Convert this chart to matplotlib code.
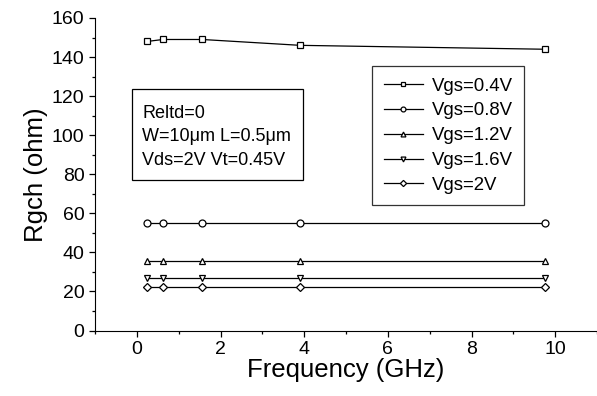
import numpy as np
import matplotlib
matplotlib.use("Agg")
import matplotlib.pyplot as plt
from matplotlib.patches import Rectangle

plt.rcParams['font.family'] = ['Liberation Sans', 'DejaVu Sans']

freq = [0.25, 0.625, 1.5625, 3.906, 9.766]
rg_04 = [148, 149, 149, 146, 144]
rg_08 = [55, 55, 55, 55, 55]
rg_12 = [35.7, 35.7, 35.7, 35.7, 35.7]
rg_16 = [27, 27, 27, 27, 27]
rg_20 = [22.4, 22.4, 22.4, 22.4, 22.4]
labels = ['Vgs=0.4V', 'Vgs=0.8V', 'Vgs=1.2V', 'Vgs=1.6V', 'Vgs=2V']
markers = ['s', 'o', '^', 'v', 'D']

# axes box in pixels (left, bottom, width, height)
L, B, W, H = 95, 330.5, 502, 312.5

fig = plt.figure(figsize=(5.97, 3.96), dpi=100)
ax = fig.add_axes([L/597, 1 - B/396, W/597, H/396])

def px(x, y):
    # pixel position -> axes fraction
    return (x - L)/W, (B - y)/H

for ys, lab, m in zip([rg_04, rg_08, rg_12, rg_16, rg_20], labels, markers):
    ms = 4.5 if m == 'D' else 5
    ax.plot(freq, ys, color='black', lw=0.9, marker=m, ms=ms, mfc='white',
            mec='black', mew=0.9, label=lab)

ax.set_xlim(-1, 11)
ax.set_ylim(0, 160)
ax.set_xticks(np.arange(0, 11, 2))
ax.set_xticks(np.arange(-1, 11.5, 1), minor=True)
ax.set_yticks(np.arange(0, 161, 20))
ax.set_yticks(np.arange(0, 161, 10), minor=True)
ax.spines['top'].set_visible(False)
ax.spines['right'].set_visible(False)
ax.tick_params(which='major', length=4.5, width=0.9, labelsize=14, pad=3)
ax.tick_params(which='minor', length=2.5, width=0.9)
ax.set_xlabel('Frequency (GHz)', fontsize=18.5, labelpad=0)
ax.set_ylabel('Rgch (ohm)', fontsize=18.5, labelpad=3)

leg = ax.legend(loc='upper left', bbox_to_anchor=px(372, 66),
                borderaxespad=0, fontsize=13.4, frameon=True, fancybox=False,
                edgecolor='black', markerscale=0.7, handlelength=2.1,
                handletextpad=0.5, labelspacing=0.42, borderpad=0.62)
leg.get_frame().set_linewidth(0.9)

# parameter box
x0, y0 = px(131.7, 180)
x1, y1 = px(302.7, 89)
ax.add_patch(Rectangle((x0, y0), x1 - x0, y1 - y0, transform=ax.transAxes,
                       fc='white', ec='black', lw=0.9, zorder=4))
ax.text(*px(142, 104.5), 'Reltd=0\nW=10\u03bcm L=0.5\u03bcm\nVds=2V Vt=0.45V',
        transform=ax.transAxes, fontsize=13, va='top', ha='left',
        linespacing=1.52, zorder=5)

fig.savefig('out.png', dpi=100)
